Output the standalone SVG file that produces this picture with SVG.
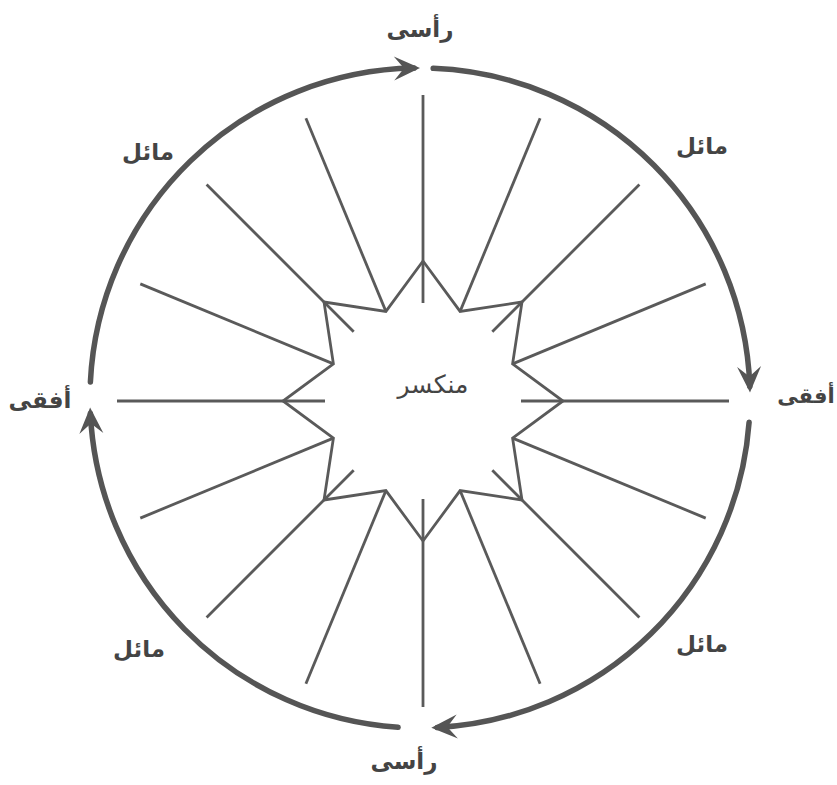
<svg xmlns="http://www.w3.org/2000/svg" width="837" height="785" viewBox="0 0 837 785">
<style>
.arc{fill:none;stroke:#555;stroke-width:5.5;stroke-linecap:round}
.sp{stroke:#5a5a5a;stroke-width:2.8;fill:none}
.star{fill:none;stroke:#5a5a5a;stroke-width:2.8;stroke-linejoin:miter}
.lbl{font-family:"DejaVu Sans","Noto Sans",sans-serif;font-weight:bold;font-size:23px;fill:#444;text-anchor:middle}
.ctr{font-family:"DejaVu Sans","Noto Sans",sans-serif;font-size:25px;fill:#444;text-anchor:middle}
</style>
<defs>
<marker id="ah" viewBox="-30 -14 40 28" markerWidth="40" markerHeight="28" refX="-6" refY="0" orient="auto" markerUnits="userSpaceOnUse">
<path d="M0,0 L-26,-12 L-16,0 L-26,12 Z" fill="#555"/>
</marker>
</defs>
<rect width="837" height="785" fill="#fff"/>
<g id="connectors">
<path class="arc" d="M90.4,381.9 A330,330 0 0 1 414,68.1" marker-end="url(#ah)"/>
<path class="arc" d="M433.2,68.3 A330,330 0 0 1 749.8,386.5" marker-end="url(#ah)"/>
<path class="arc" d="M749.1,422.2 A330,330 0 0 1 437.3,727.5" marker-end="url(#ah)"/>
<path class="arc" d="M398.1,727.3 A330,330 0 0 1 90.4,413.5" marker-end="url(#ah)"/>
</g>
<g id="spokes">
<line class="sp" x1="423" y1="303" x2="423" y2="95"/>
<line class="sp" x1="492.3" y1="331.7" x2="639.4" y2="184.6"/>
<line class="sp" x1="521" y1="401" x2="729" y2="401"/>
<line class="sp" x1="492.3" y1="470.3" x2="639.4" y2="617.4"/>
<line class="sp" x1="423" y1="499" x2="423" y2="707"/>
<line class="sp" x1="353.7" y1="470.3" x2="206.6" y2="617.4"/>
<line class="sp" x1="325" y1="401" x2="117" y2="401"/>
<line class="sp" x1="353.7" y1="331.7" x2="206.6" y2="184.6"/>
<line class="sp" x1="460.1" y1="311.4" x2="540.1" y2="118.3"/>
<line class="sp" x1="512.6" y1="363.9" x2="705.7" y2="283.9"/>
<line class="sp" x1="512.6" y1="438.1" x2="705.7" y2="518.1"/>
<line class="sp" x1="460.1" y1="490.6" x2="540.1" y2="683.7"/>
<line class="sp" x1="385.9" y1="490.6" x2="305.9" y2="683.7"/>
<line class="sp" x1="333.4" y1="438.1" x2="140.3" y2="518.1"/>
<line class="sp" x1="333.4" y1="363.9" x2="140.3" y2="283.9"/>
<line class="sp" x1="385.9" y1="311.4" x2="305.9" y2="118.3"/>
</g>
<g id="star">
<polygon class="star" points="423,261 460.1,311.4 522,302 512.6,363.9 563,401 512.6,438.1 522,500 460.1,490.6 423,541 385.9,490.6 324,500 333.4,438.1 283,401 333.4,363.9 324,302 385.9,311.4"/>
<text class="ctr" x="433" y="393">منكسر</text>
</g>
<g id="label-top"><text class="lbl" x="420" y="37">رأسى</text></g>
<g id="label-bottom"><text class="lbl" x="404" y="769">رأسى</text></g>
<g id="label-left"><text class="lbl" x="40" y="408">أفقى</text></g>
<g id="label-right"><text class="lbl" x="806" y="403" style="font-size:21px">أفقى</text></g>
<g id="label-tl"><text class="lbl" x="148" y="160">مائل</text></g>
<g id="label-tr"><text class="lbl" x="702" y="154">مائل</text></g>
<g id="label-bl"><text class="lbl" x="139" y="657">مائل</text></g>
<g id="label-br"><text class="lbl" x="702" y="652">مائل</text></g>
</svg>
